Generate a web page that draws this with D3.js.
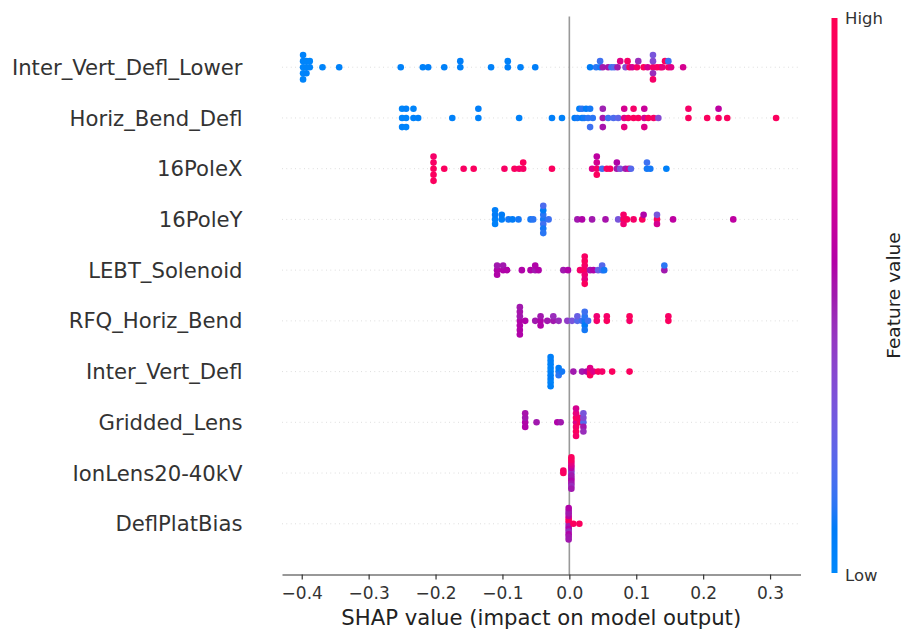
<!DOCTYPE html>
<html>
<head>
<meta charset="utf-8">
<script src="https://cdn.jsdelivr.net/npm/d3@7"></script>
<style>
  body { margin: 0; background: #fff; }
  text { font-family: "DejaVu Sans", sans-serif; }
</style>
</head>
<body>
<svg id="chart" width="905" height="633"></svg>
<script>
// feature names, top to bottom
var features = ["Inter_Vert_Defl_Lower", "Horiz_Bend_Defl", "16PoleX", "16PoleY", "LEBT_Solenoid",
  "RFQ_Horiz_Bend", "Inter_Vert_Defl", "Gridded_Lens", "IonLens20-40kV", "DeflPlatBias"];

// each point: [shap value, feature value 0 (low) .. 1 (high)]
var interVertDeflLower = [[-0.398,0.02],[-0.398,0.03],[-0.398,0.02],[-0.398,0.04],[-0.398,0.03],[-0.393,0.03],[-0.393,0.02],[-0.393,0.04],
  [-0.388,0.03],[-0.388,0.02],
  [-0.369,0.03],[-0.344,0.04],[-0.252,0.05],[-0.219,0.05],[-0.211,0.06],[-0.187,0.05],[-0.163,0.05],[-0.163,0.06],[-0.117,0.05],
  [-0.092,0.06],[-0.092,0.05],[-0.073,0.05],[-0.051,0.06],
  [0.031,0.08],[0.040,0.12],[0.046,0.1],[0.046,0.15],[0.050,0.5],[0.058,0.52],[0.063,0.15],[0.067,0.2],[0.072,0.5],[0.076,0.75],
  [0.084,0.35],[0.087,0.9],[0.090,0.95],[0.094,0.7],[0.101,0.9],[0.103,0.45],[0.111,0.95],[0.117,0.7],[0.125,0.9],[0.125,0.35],
  [0.125,0.45],[0.125,0.3],[0.125,0.9],[0.131,0.9],[0.136,0.95],[0.139,0.8],[0.143,0.95],[0.148,0.9],[0.148,0.15],[0.152,0.75],[0.170,0.7]];

var horizBendDefl = [[-0.250,0.03],[-0.250,0.02],[-0.250,0.04],[-0.244,0.03],[-0.244,0.05],[-0.244,0.02],[-0.233,0.04],[-0.233,0.03],
  [-0.226,0.05],[-0.175,0.05],[-0.136,0.04],[-0.136,0.06],[-0.075,0.05],[-0.026,0.06],[-0.011,0.05],
  [0.008,0.08],[0.012,0.1],[0.015,0.06],[0.019,0.08],[0.019,0.12],[0.022,0.1],[0.025,0.08],[0.028,0.12],[0.031,0.1],[0.031,0.15],
  [0.035,0.12],[0.050,0.5],[0.050,0.48],[0.050,0.52],[0.058,0.15],[0.066,0.18],[0.073,0.22],
  [0.082,0.75],[0.082,0.7],[0.082,0.8],[0.088,0.92],[0.096,0.95],[0.096,0.9],[0.103,0.95],[0.112,0.7],[0.112,0.65],[0.112,0.75],
  [0.118,0.95],[0.126,0.92],[0.133,0.35],[0.178,0.95],[0.178,0.9],[0.206,0.95],[0.223,0.92],[0.223,0.6],[0.236,0.95],[0.309,0.95]];

var pole16X = [[-0.203,0.95],[-0.203,0.92],[-0.203,0.95],[-0.203,0.9],[-0.203,0.95],[-0.187,0.95],[-0.158,0.93],[-0.143,0.95],
  [-0.097,0.92],[-0.082,0.95],[-0.075,0.9],[-0.069,0.92],[-0.069,0.95],[-0.026,0.95],
  [0.034,0.75],[0.041,0.9],[0.041,0.7],[0.041,0.95],[0.041,0.6],[0.049,0.15],[0.056,0.95],[0.061,0.92],[0.071,0.5],[0.071,0.55],
  [0.076,0.3],[0.084,0.5],[0.089,0.7],[0.092,0.2],[0.116,0.1],[0.116,0.15],[0.121,0.1],[0.145,0.05]];

var pole16Y = [[-0.111,0.05],[-0.111,0.08],[-0.111,0.04],[-0.111,0.06],[-0.101,0.06],[-0.101,0.08],[-0.091,0.1],[-0.085,0.08],
  [-0.076,0.1],[-0.058,0.1],[-0.054,0.12],
  [-0.039,0.1],[-0.039,0.12],[-0.039,0.15],[-0.039,0.08],[-0.039,0.1],[-0.039,0.18],[-0.039,0.12],[-0.031,0.15],
  [0.012,0.5],[0.019,0.55],[0.034,0.5],[0.054,0.52],[0.073,0.3],[0.081,0.95],[0.081,0.9],[0.081,0.85],[0.086,0.95],[0.096,0.9],
  [0.109,0.95],[0.111,0.55],[0.131,0.95],[0.131,0.3],[0.131,0.7],[0.155,0.6],[0.245,0.6]];

var lebtSolenoid = [[-0.108,0.55],[-0.108,0.5],[-0.108,0.55],[-0.099,0.55],[-0.099,0.5],[-0.093,0.55],[-0.071,0.55],[-0.058,0.55],
  [-0.051,0.5],[-0.051,0.55],[-0.046,0.55],[-0.009,0.5],[-0.002,0.55],[0.016,0.9],
  [0.023,0.95],[0.023,0.9],[0.023,0.85],[0.023,0.95],[0.023,0.8],[0.023,0.92],[0.023,0.95],
  [0.031,0.5],[0.036,0.55],[0.043,0.25],[0.049,0.15],[0.049,0.2],[0.052,0.1],[0.142,0.5],[0.142,0.12]];

var rfqHorizBend = [[-0.074,0.55],[-0.074,0.5],[-0.074,0.55],[-0.074,0.52],[-0.074,0.55],[-0.074,0.5],[-0.074,0.55],
  [-0.066,0.55],[-0.051,0.5],[-0.043,0.55],[-0.043,0.5],[-0.043,0.55],[-0.033,0.5],[-0.024,0.5],[-0.024,0.45],[-0.016,0.45],
  [-0.003,0.4],[0.004,0.3],[0.012,0.2],[0.012,0.25],[0.019,0.15],
  [0.023,0.1],[0.023,0.12],[0.023,0.08],[0.023,0.15],[0.023,0.1],[0.028,0.15],[0.041,0.9],[0.041,0.85],[0.056,0.95],[0.056,0.9],
  [0.090,0.9],[0.090,0.95],[0.148,0.95],[0.148,0.92]];

var interVertDefl = [[-0.028,0.05],[-0.028,0.03],[-0.028,0.06],[-0.028,0.04],[-0.028,0.08],[-0.028,0.05],[-0.028,0.03],[-0.028,0.06],
  [-0.028,0.05],[-0.016,0.1],[-0.016,0.08],[-0.016,0.12],[-0.011,0.1],
  [0.006,0.5],[0.019,0.5],[0.026,0.55],[0.031,0.9],[0.031,0.75],[0.031,0.95],[0.036,0.75],[0.043,0.95],[0.049,0.9],[0.064,0.95],[0.090,0.95]];

var griddedLens = [[-0.066,0.55],[-0.066,0.5],[-0.066,0.55],[-0.066,0.52],[-0.049,0.5],[-0.018,0.55],[-0.013,0.5],
  [0.010,0.75],[0.010,0.95],[0.010,0.9],[0.010,0.8],[0.010,0.95],[0.010,0.7],[0.010,0.9],
  [0.016,0.95],[0.016,0.9],[0.021,0.2],[0.021,0.35],[0.021,0.5],[0.021,0.3],[0.021,0.45]];

var ionLens = [[-0.009,0.95],[-0.009,0.92],
  [0.003,0.25],[0.003,0.45],[0.003,0.5],[0.003,0.6],[0.003,0.5],[0.003,0.7],[0.003,0.55],[0.003,0.8],[0.003,0.5],
  [0.003,0.9],[0.003,0.45],[0.003,0.95],[0.003,0.5]];

var deflPlatBias = [[-0.001,0.3],[-0.001,0.9],[-0.001,0.5],[-0.001,0.95],[-0.001,0.55],[-0.001,0.6],[-0.001,0.45],[-0.001,0.5],
  [-0.001,0.55],[-0.001,0.5],[-0.001,0.5],[-0.001,0.55],[-0.001,0.5],[0.006,0.95],[0.015,0.95]];

var rows = [interVertDeflLower, horizBendDefl, pole16X, pole16Y, lebtSolenoid,
  rfqHorizBend, interVertDefl, griddedLens, ionLens, deflPlatBias];

var xTicks = [-0.4, -0.3, -0.2, -0.1, 0.0, 0.1, 0.2, 0.3];

var svg = d3.select('#chart');
var n = features.length;
var ROW_HEIGHT = 0.4;

var x = d3.scaleLinear()
  .domain([-0.4295, 0.3455])
  .range([282, 800.5]);

// shap puts the top feature at the highest y position
var y = d3.scaleLinear()
  .domain([-1, n])
  .range([574.5, 16.5]);

// shap red_blue colormap (lch, lightness dips in the middle)
function shapColor(t) {
  var l = t < 0.5 ? 54 - 28 * t : 40 + 28 * (t - 0.5);
  var c = 70 + 20 * t;
  var h = 266.93 + 113.39 * t;
  return d3.hcl(h % 360, c, l).formatHex();
}

// same layout as shap's beeswarm: bin the values, stack alternately up and down
function swarm(pts) {
  var vals = pts.map(function(p) { return p[0]; });
  var lo = d3.min(vals), hi = d3.max(vals);
  var quant = vals.map(function(v) { return Math.round(100 * (v - lo) / (hi - lo + 1e-8)); });
  var order = d3.range(pts.length).sort(function(a, b) { return quant[a] - quant[b] || a - b; });
  var ys = pts.map(function() { return 0; });
  var layer = 0, last = -1;
  order.forEach(function(i) {
    if (quant[i] !== last) layer = 0;
    ys[i] = Math.ceil(layer / 2) * ((layer % 2) * 2 - 1);
    layer += 1;
    last = quant[i];
  });
  var k = 0.9 * ROW_HEIGHT / d3.max(ys, function(d) { return d + 1; });
  return ys.map(function(d) { return d * k; });
}

// dotted row guides
svg.append('g')
  .selectAll('line')
  .data(features)
  .enter().append('line')
  .attr('x1', x.range()[0])
  .attr('x2', x.range()[1])
  .attr('y1', function(d, i) { return y(n - 1 - i); })
  .attr('y2', function(d, i) { return y(n - 1 - i); })
  .attr('stroke', '#cccccc')
  .attr('stroke-width', 0.8)
  .attr('stroke-dasharray', '0.8,3.6');

// zero line
svg.append('line')
  .attr('x1', x(0)).attr('x2', x(0))
  .attr('y1', y(n)).attr('y2', y(-1))
  .attr('stroke', '#999999')
  .attr('stroke-width', 1.6);

// dots
rows.forEach(function(pts, i) {
  var pos = n - 1 - i;
  var off = swarm(pts);
  svg.append('g')
    .selectAll('circle')
    .data(pts)
    .enter().append('circle')
    .attr('cx', function(d) { return x(d[0]); })
    .attr('cy', function(d, j) { return y(pos + off[j]); })
    .attr('r', 3.3)
    .attr('fill', function(d) { return shapColor(d[1]); });
});

// feature labels
svg.append('g')
  .selectAll('text')
  .data(features)
  .enter().append('text')
  .attr('x', 242.5)
  .attr('y', function(d, i) { return y(n - 1 - i); })
  .attr('dy', '0.36em')
  .attr('text-anchor', 'end')
  .attr('font-size', '21.2px')
  .attr('fill', '#333333')
  .text(function(d) { return d; });

// x axis
var xAxis = svg.append('g')
  .attr('transform', 'translate(0,' + y(-1) + ')')
  .call(d3.axisBottom(x)
    .tickValues(xTicks)
    .tickFormat(d3.format('.1f'))
    .tickSize(5)
    .tickSizeOuter(0)
    .tickPadding(7));

xAxis.select('.domain').attr('stroke', '#333333').attr('stroke-width', 1.2);
xAxis.selectAll('.tick line').attr('stroke', '#333333').attr('stroke-width', 1.2);
xAxis.selectAll('.tick text')
  .attr('font-family', '"DejaVu Sans", sans-serif')
  .attr('font-size', '17px')
  .attr('fill', '#333333');

svg.append('text')
  .attr('x', (x.range()[0] + x.range()[1]) / 2)
  .attr('y', 625)
  .attr('text-anchor', 'middle')
  .attr('font-size', '21.2px')
  .attr('fill', '#222222')
  .text('SHAP value (impact on model output)');

// colour bar
var grad = svg.append('defs').append('linearGradient')
  .attr('id', 'cbar')
  .attr('x1', 0).attr('y1', 1)
  .attr('x2', 0).attr('y2', 0);

grad.selectAll('stop')
  .data(d3.range(0, 1.0001, 0.02))
  .enter().append('stop')
  .attr('offset', function(d) { return d; })
  .attr('stop-color', function(d) { return shapColor(d); });

var cbTop = 18, cbBottom = 573;

svg.append('rect')
  .attr('x', 831.5)
  .attr('y', cbTop)
  .attr('width', 6)
  .attr('height', cbBottom - cbTop)
  .attr('fill', 'url(#cbar)');

svg.append('text')
  .attr('x', 845)
  .attr('y', cbTop)
  .attr('dy', '0.36em')
  .attr('font-size', '16.5px')
  .attr('fill', '#333333')
  .text('High');

svg.append('text')
  .attr('x', 845)
  .attr('y', cbBottom + 2)
  .attr('dy', '0.36em')
  .attr('font-size', '16.5px')
  .attr('fill', '#333333')
  .text('Low');

svg.append('text')
  .attr('transform', 'translate(893,' + ((cbTop + cbBottom) / 2) + ') rotate(-90)')
  .attr('dy', '0.36em')
  .attr('text-anchor', 'middle')
  .attr('font-size', '18.5px')
  .attr('fill', '#222222')
  .text('Feature value');
</script>
</body>
</html>
